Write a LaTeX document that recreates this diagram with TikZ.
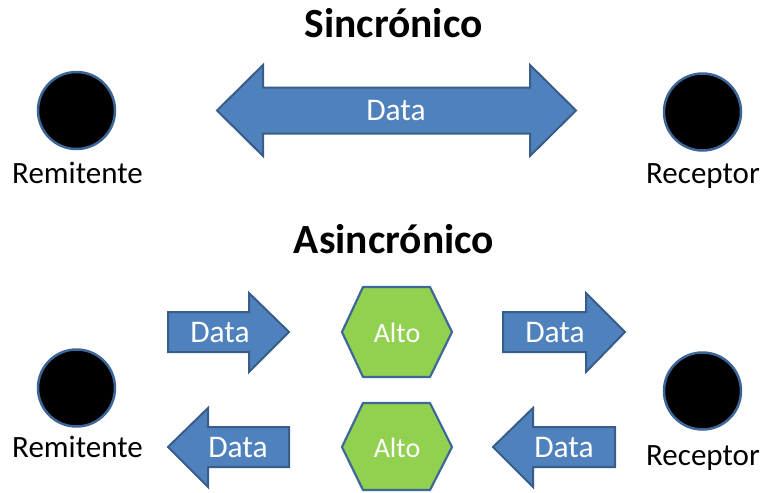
\documentclass[tikz,border=0pt]{standalone}
\usepackage{fontspec}
\setmainfont{Carlito}
\definecolor{arrfill}{HTML}{4F81BD}
\definecolor{arrline}{HTML}{385D8A}
\definecolor{hexfill}{HTML}{92D050}
\definecolor{hexline}{HTML}{3D6897}
\definecolor{dotline}{HTML}{3C6598}
\tikzset{
  arrowshape/.style={fill=arrfill,draw=arrline,line width=2pt,line join=miter},
  hexshape/.style={fill=hexfill,draw=hexline,line width=2.2pt,line join=round},
  dot/.style={circle,fill=black,draw=dotline,line width=2.5pt,minimum size=77pt,inner sep=0pt},
  lbl/.style={font=\fontsize{31}{35}\selectfont,text=black,anchor=base,inner sep=0pt},
  datalbl/.style={font=\fontsize{31.5}{35}\selectfont,text=white,inner sep=0pt},
  altolbl/.style={font=\fontsize{28}{31}\selectfont,text=white,inner sep=0pt},
  title/.style={font=\fontsize{41.5}{45}\selectfont\bfseries,text=black,anchor=base,inner sep=0pt}
}
\begin{document}
\begin{tikzpicture}[x=1pt,y=-1pt]
\useasboundingbox (0,0) rectangle (764,493);
% titles
\node[title] (t1) at (393.5,37) {Sincrónico};
\node[title] (t2) at (394,253) {Asincrónico};
% top
\node[dot] (s1) at (76.5,110.5) {};
\node[dot] (r1) at (702.5,112) {};
\node[lbl] (s1l) at (77.5,183) {Remitente};
\node[lbl] (r1l) at (703,183) {Receptor};
\draw[arrowshape] (217,110.5) -- (263,65) -- (263,87.5) -- (530,87.5) -- (530,65) -- (576,110.5)
  -- (530,156) -- (530,133.5) -- (263,133.5) -- (263,156) -- cycle;
\node[datalbl] (d0) at (396,111) {Data};
% bottom circles
\node[dot] (s2) at (76.5,388) {};
\node[dot] (r2) at (702.5,391) {};
\node[lbl] (s2l) at (77.5,457) {Remitente};
\node[lbl] (r2l) at (703,465) {Receptor};
% small arrows
\draw[arrowshape] (168,312) -- (249,312) -- (249,293) -- (289,332) -- (249,372) -- (249,352) -- (168,352) -- cycle;
\node[datalbl] (d1) at (220,333) {Data};
\draw[arrowshape] (503,312) -- (586,312) -- (586,293) -- (625,332) -- (586,372) -- (586,352) -- (503,352) -- cycle;
\node[datalbl] (d2) at (555,333) {Data};
\draw[arrowshape] (289,427) -- (208,427) -- (208,408) -- (168,447) -- (208,487) -- (208,467) -- (289,467) -- cycle;
\node[datalbl] (d3) at (238,448) {Data};
\draw[arrowshape] (615,427) -- (533,427) -- (533,408) -- (493,447) -- (533,487) -- (533,467) -- (615,467) -- cycle;
\node[datalbl] (d4) at (564,448) {Data};
% hexagons
\draw[hexshape] (342,332) -- (363,287) -- (430,287) -- (452,332) -- (430,377) -- (363,377) -- cycle;
\node[altolbl] (h1) at (397,333) {Alto};
\draw[hexshape] (342,447) -- (363,403) -- (430,403) -- (452,447) -- (430,490) -- (363,490) -- cycle;
\node[altolbl] (h2) at (397,448) {Alto};
\end{tikzpicture}
\end{document}
